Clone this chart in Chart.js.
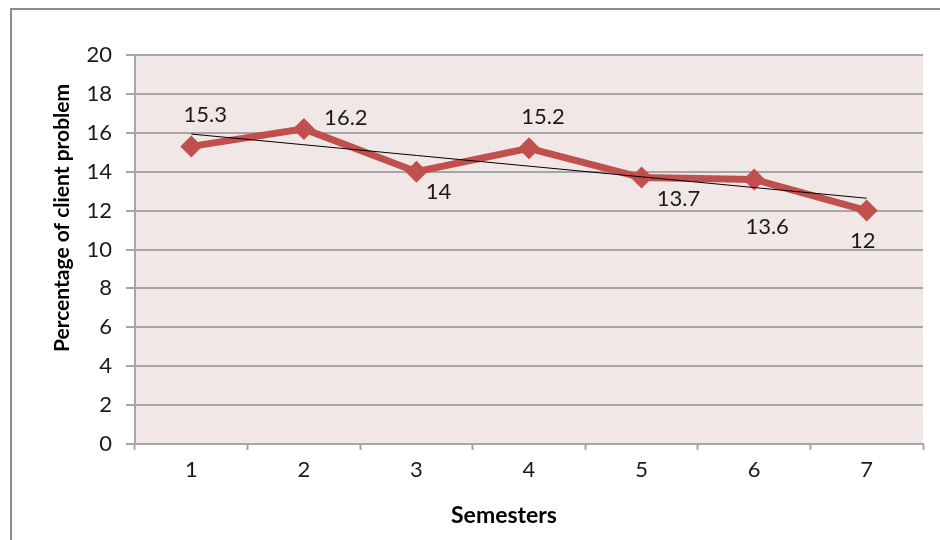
<!DOCTYPE html>
<html>
<head>
<meta charset="utf-8">
<script src="https://cdn.jsdelivr.net/npm/chart.js@4/dist/chart.umd.min.js"></script>
<style>
  html, body { margin: 0; padding: 0; background: #ffffff; }
  #wrap { width: 940px; height: 540px; position: relative; }
</style>
</head>
<body>
<div id="wrap"><canvas id="c" width="940" height="540"></canvas></div>
<script>
// Semester categories and share of client problems (%)
const semesters = ['1', '2', '3', '4', '5', '6', '7'];
const clientProblem = [15.3, 16.2, 14, 15.2, 13.7, 13.6, 12];
const yTicks = [0, 2, 4, 6, 8, 10, 12, 14, 16, 18, 20];

// Placement of each value label relative to its point (px)
const labelOffsets = [[14, -32], [42, -11], [22, 20], [14, -31], [37, 21], [13, 47], [-4, 30]];

// Least-squares linear trend over the series
function linearTrend(values) {
  const n = values.length;
  const xs = values.map((_, i) => i + 1);
  const mx = xs.reduce((a, b) => a + b, 0) / n;
  const my = values.reduce((a, b) => a + b, 0) / n;
  let sxy = 0, sxx = 0;
  xs.forEach((x, i) => { sxy += (x - mx) * (values[i] - my); sxx += (x - mx) * (x - mx); });
  const slope = sxy / sxx;
  return xs.map(x => my + slope * (x - mx));
}
const trend = linearTrend(clientProblem);

const FONT = 'Lato, "Open Sans", sans-serif';

const framePlugin = {
  id: 'frame',
  beforeDraw(chart) {
    const ctx = chart.ctx;
    const a = chart.chartArea;
    ctx.save();
    ctx.fillStyle = '#ffffff';
    ctx.fillRect(0, 0, chart.width, chart.height);
    ctx.strokeStyle = '#8c8c8c';
    ctx.lineWidth = 2;
    ctx.strokeRect(11, 9, 1000, 1000);
    ctx.fillStyle = '#f2e7e7';
    ctx.fillRect(a.left, a.top, a.right - a.left, a.bottom - a.top);
    ctx.restore();
  }
};

const labelPlugin = {
  id: 'valueLabels',
  afterDatasetsDraw(chart) {
    const ctx = chart.ctx;
    const meta = chart.getDatasetMeta(0);
    ctx.save();
    ctx.font = '22px ' + FONT;
    ctx.fillStyle = '#1a1a1a';
    ctx.textAlign = 'center';
    ctx.textBaseline = 'middle';
    meta.data.forEach((pt, i) => {
      const off = labelOffsets[i];
      ctx.fillText(String(clientProblem[i]), pt.x + off[0], pt.y + off[1]);
    });
    // axis titles
    ctx.fillStyle = '#000000';
    ctx.font = 'bold 23px ' + FONT;
    ctx.fillText('Semesters', 504, 516);
    ctx.font = 'bold 21px ' + FONT;
    ctx.translate(62, 218);
    ctx.rotate(-Math.PI / 2);
    ctx.fillText('Percentage of client problem', 0, 0);
    ctx.restore();
  }
};

new Chart(document.getElementById('c'), {
  type: 'line',
  data: {
    labels: semesters,
    datasets: [
      {
        label: 'Client problem',
        data: clientProblem,
        borderColor: '#c0504d',
        backgroundColor: '#c0504d',
        borderWidth: 7,
        pointStyle: 'rectRot',
        pointRadius: 11,
        pointHoverRadius: 11,
        pointBorderWidth: 0,
        tension: 0,
        order: 2
      },
      {
        label: 'Linear trend',
        data: trend,
        borderColor: '#000000',
        borderWidth: 1,
        pointRadius: 0,
        tension: 0,
        order: 1
      }
    ]
  },
  options: {
    responsive: false,
    animation: false,
    layout: { padding: { left: 0, top: 55, right: 17, bottom: 0 } },
    plugins: { legend: { display: false }, tooltip: { enabled: false } },
    scales: {
      x: {
        offset: true,
        grid: { offset: true, drawOnChartArea: false, color: '#a6a6a6', tickLength: 6, tickWidth: 2 },
        border: { color: '#a6a6a6', width: 2 },
        ticks: { color: '#1a1a1a', font: { family: FONT, size: 22 }, padding: 7, maxRotation: 0 },
        afterFit(scale) { scale.height = 96; }
      },
      y: {
        min: 0,
        max: 20,
        afterBuildTicks(scale) { scale.ticks = yTicks.map(v => ({ value: v })); },
        grid: { color: '#a6a6a6', lineWidth: 2, tickLength: 9 },
        border: { color: '#a6a6a6', width: 2 },
        ticks: { color: '#1a1a1a', font: { family: FONT, size: 22 }, padding: 14 },
        afterFit(scale) { scale.width = 135; }
      }
    }
  },
  plugins: [framePlugin, labelPlugin]
});
</script>
</body>
</html>
